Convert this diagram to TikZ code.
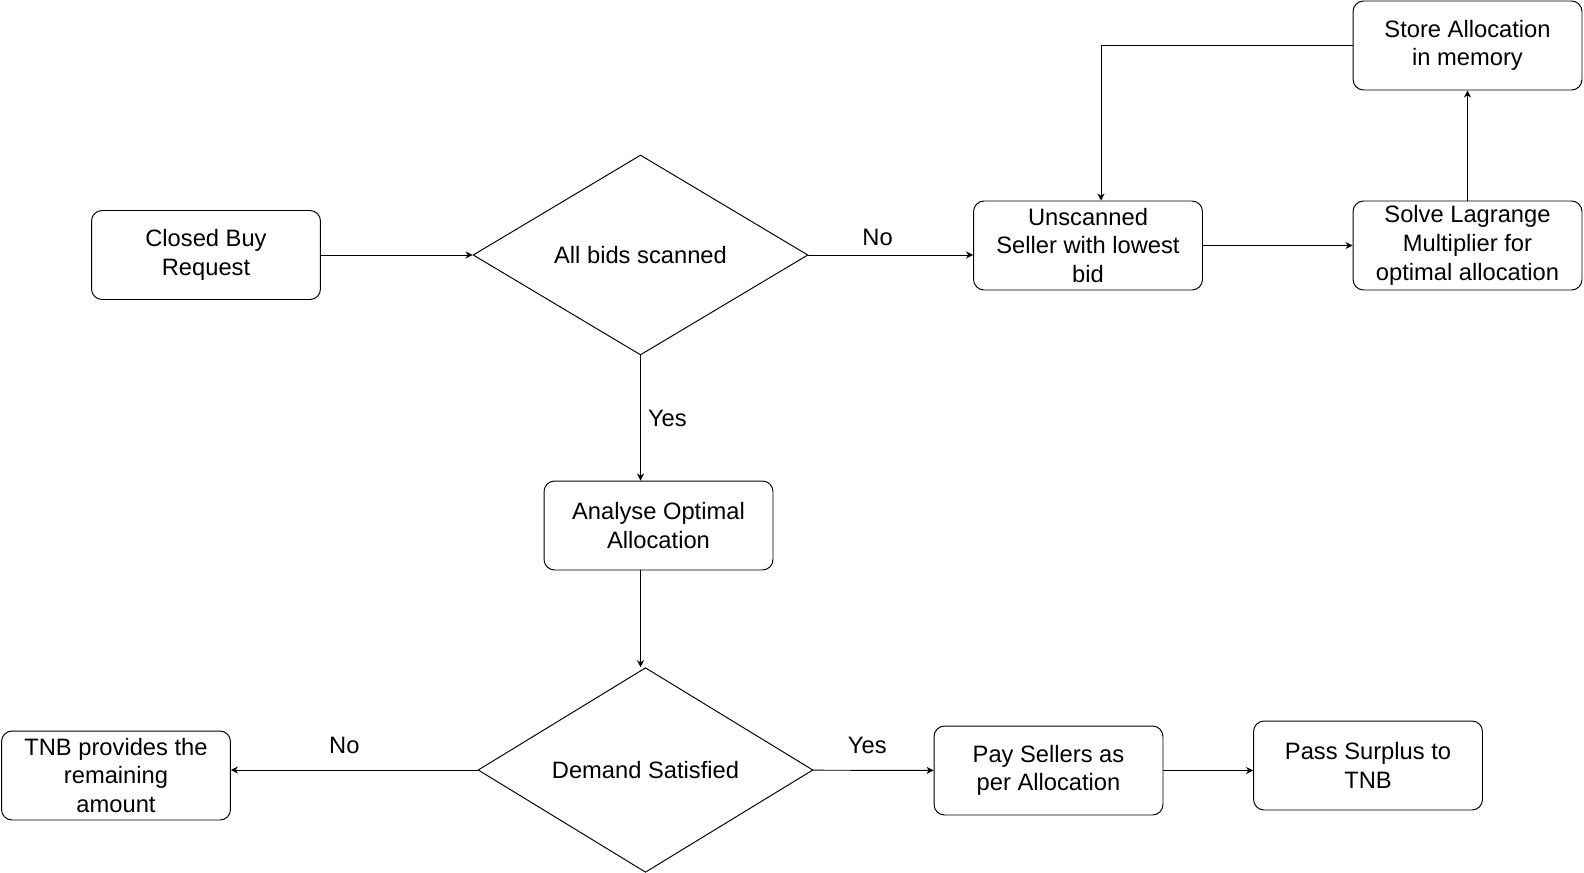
\documentclass[tikz,border=0pt]{standalone}
\usepackage{fontspec}
\setmainfont{Liberation Sans}
\usetikzlibrary{
    shapes.geometric,
    arrows.meta
}
\tikzset {
    process/.style = {draw, rounded corners = 6pt, align = center,
        minimum width = 4.58cm, minimum height = 1.78cm, inner sep = 1pt},
    decision/.style = {draw, diamond, align = center,
        minimum width = 6.7cm, minimum height = 4cm, inner sep = 0pt},
    flow/.style = {arrows = {-Stealth[length = 4pt, width = 4pt]}},
    label text/.style = {inner sep = 0pt},
}

\begin{document}
\begin{tikzpicture}[x = 0.02cm, y = -0.02cm, line width = 0.55pt,
        font = \fontsize{13.5}{16.3}\selectfont]
    \useasboundingbox (0, 0) rectangle (1584, 872);
    \node (closed) [process] at (206, 255) {Closed Buy\\Request};
    \node (scanned) [decision] at (640.5, 255) {All bids scanned};
    \node (unscanned) [process] at (1088, 245.5) {Unscanned\\Seller with lowest\\bid};
    \node (solve) [process] at (1467.5, 245.5) {Solve Lagrange\\Multiplier for\\optimal allocation};
    \node (store) [process] at (1467.5, 45.5) {Store Allocation\\in memory};
    \node (analyse) [process] at (658.5, 525.5) {Analyse Optimal\\Allocation};
    \node (demand) [decision] at (645.5, 770) {Demand Satisfied};
    \node (tnb) [process] at (116, 775.5) {TNB provides the\\remaining\\amount};
    \node (pay) [process] at (1048.5, 770.5) {Pay Sellers as\\per Allocation};
    \node (surplus) [process] at (1368, 765.5) {Pass Surplus to\\TNB};
    \coordinate (turn) at (1101, 45.5);
    % top row
    \draw [flow] (closed) -- (scanned);
    \draw [flow] (scanned.east) -- (scanned.east -| unscanned.west)
        node [label text, pos = 0.42, above = 5pt] {No};
    \draw [flow] (unscanned) -- (solve);
    \draw [flow] (solve) -- (store);
    \draw [flow] (store.west) -- (turn) -- (turn |- unscanned.north);
    % down the middle
    \draw [flow] (scanned.south) -- (scanned.south |- analyse.north)
        node [label text, midway, right = 4pt] {Yes};
    \draw [flow] (scanned.south |- analyse.south) -- (scanned.south |- demand.north);
    % bottom row
    \draw [flow] (demand.west) -- (demand.west -| tnb.east)
        node [label text, pos = 0.54, above = 9pt] {No};
    \draw [flow] (demand) -- (pay)
        node [label text, pos = 0.45, above = 9pt] {Yes};
    \draw [flow] (pay.east) -- (pay.east -| surplus.west);
\end{tikzpicture}
\end{document}
